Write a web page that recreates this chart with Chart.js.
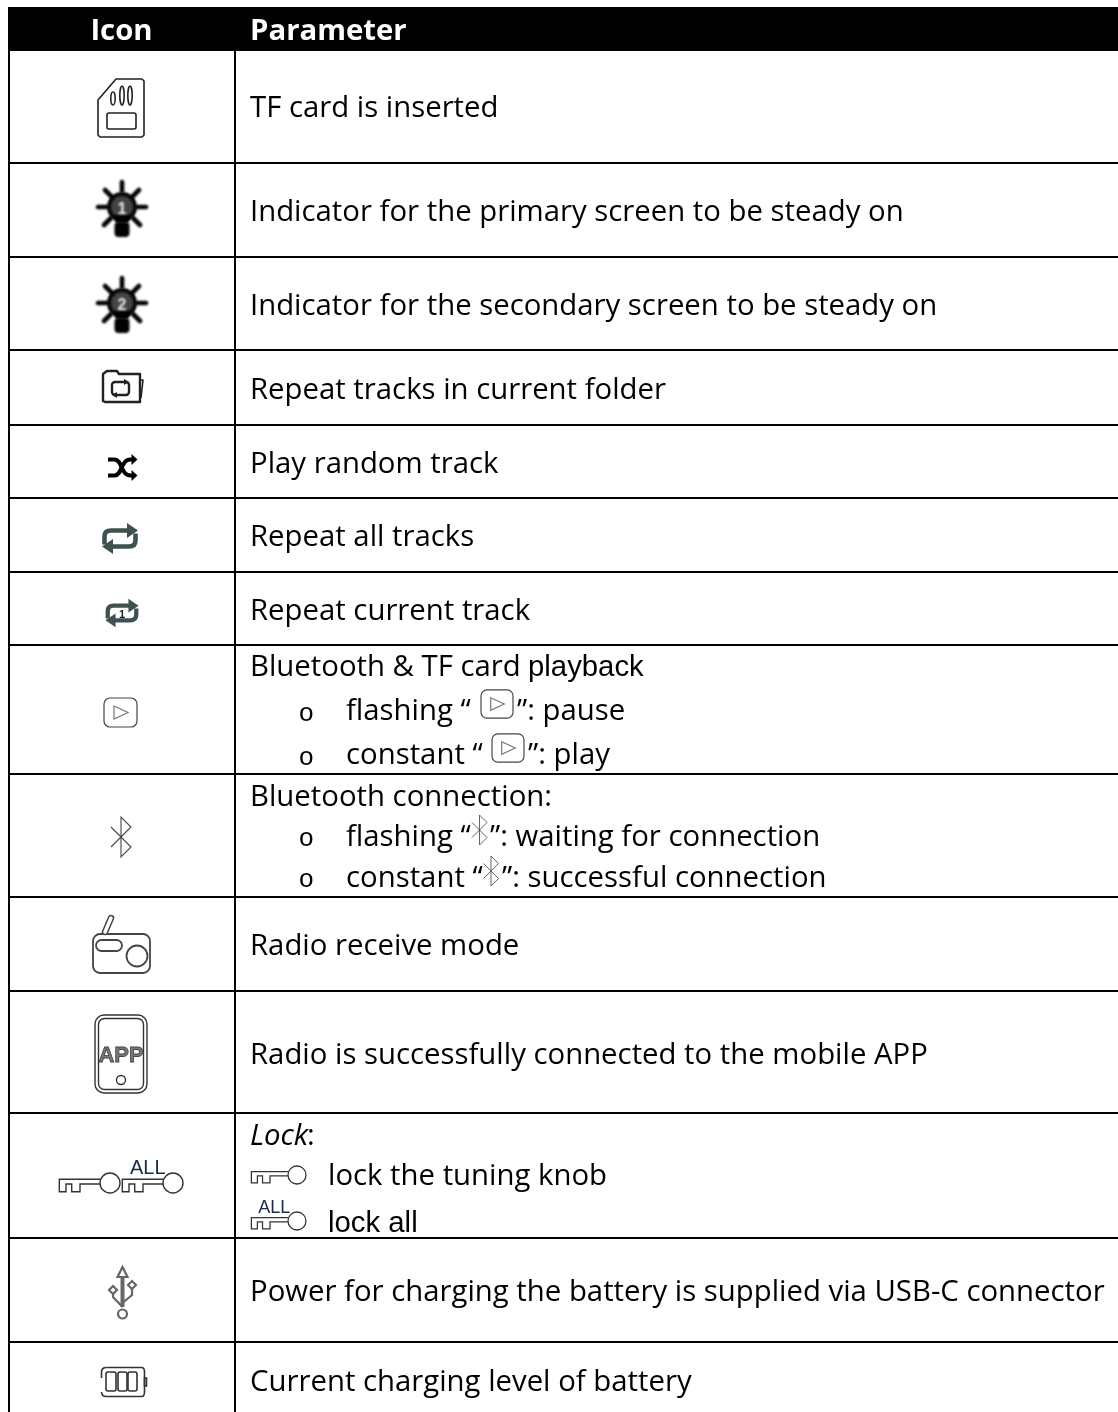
<!DOCTYPE html>
<html>
<head>
<meta charset="utf-8">
<title>Icon table</title>
<script src="https://cdn.jsdelivr.net/npm/chart.js@4"></script>
<style>
  html, body { margin: 0; padding: 0; background: #fff; }
  #wrap { width: 1118px; height: 1412px; }
</style>
</head>
<body>
<div id="wrap"><canvas id="myChart"></canvas></div>
<script>
/* table skeleton */
var columnEdges = [9, 235];
var rowEdges = [50, 163, 257, 350, 425, 498, 572, 645, 774, 897, 991, 1113, 1238, 1342];
var headerBand = [{x: 8, y: 28.5}, {x: 1118, y: 28.5}];

var headerLabels = ["Icon", "Parameter"];
var headerX = [121.5, 250];

var textLines = ["TF card is inserted", "Indicator for the primary screen to be steady on",
  "Indicator for the secondary screen to be steady on", "Repeat tracks in current folder",
  "Play random track", "Repeat all tracks", "Repeat current track", "Bluetooth & TF card ",
  "flashing “", "”: pause", "constant “", "”: play", "Bluetooth connection:",
  "flashing “", "”: waiting for connection", "constant “", "”: successful connection",
  "Radio receive mode", "Radio is successfully connected to the mobile APP",
  ":", "lock the tuning knob", "Power for charging the battery is supplied via USB-C connector",
  "Current charging level of battery"];
var textX = [250, 250, 250, 250, 250, 250, 250, 250, 346, 517, 346, 528, 250, 346, 490, 346, 502,
  250, 250, 307, 328, 250, 250];
var textY = [117, 221, 315, 399, 473, 546, 620, 676, 720, 720, 764, 764, 806, 846, 846, 887, 887,
  955, 1064, 1145, 1185, 1301, 1391];

var bulletY = [721, 765, 846, 887];
var iconSpots = [
  ["sd", 121, 108, 1], ["bulb1", 122, 207, 1], ["bulb2", 122, 303, 1], ["folder", 122, 386, 1],
  ["shuffle", 122.5, 467.5, 1], ["repeat", 120, 538.5, 1], ["repeat1", 122, 613, 0.92],
  ["play", 120.5, 712.5, 1], ["play", 497, 704, 0.97], ["play", 508, 748, 0.97],
  ["bt", 121, 837, 1], ["bt", 479.5, 830, 0.75], ["bt", 491, 871, 0.75],
  ["radio", 121, 945, 1], ["app", 121, 1054, 1],
  ["key", 110, 1183, 1], ["keyAll", 173, 1183, 1], ["key", 297, 1175, 0.9], ["keyAll", 297, 1221, 0.9],
  ["usb", 122.5, 1293, 1], ["battery", 123.5, 1382, 1]
];

const bodyFont = '29.33px "Open Sans"';

function rr(c, x, y, w, h, r) { c.beginPath(); c.roundRect(x, y, w, h, r); c.stroke(); }
function poly(c, pts, close) {
  c.beginPath();
  pts.forEach((p, i) => i ? c.lineTo(p[0], p[1]) : c.moveTo(p[0], p[1]));
  if (close) c.closePath();
}
function arrow(c, x, y, dir, len, half) {
  poly(c, [[x, y - half], [x + dir * len, y], [x, y + half]], true);
  c.fill();
}

function drawBulb(c, label) {
  c.filter = 'blur(0.9px)';
  c.strokeStyle = '#000'; c.fillStyle = '#000'; c.lineCap = 'round'; c.lineWidth = 4.6;
  [[-24, 0, -15, 0], [24, 0, 15, 0], [0, -25, 0, -16], [-17, -17, -10, -10], [17, -17, 10, -10],
   [-18, 18, -11, 11], [18, 18, 11, 11]].forEach(r => {
    poly(c, [[r[0], r[1]], [r[2], r[3]]]); c.stroke();
  });
  c.lineWidth = 4; c.fillStyle = '#444';
  c.beginPath(); c.arc(0, 0, 13, 0, Math.PI * 2); c.fill(); c.stroke();
  c.fillStyle = '#000';
  poly(c, [[-9, 8], [9, 8], [6, 16], [-6, 16]], true); c.fill();
  c.beginPath(); c.roundRect(-7.5, 15, 15, 15, 4); c.fill();
  c.font = 'bold 16px "Liberation Sans"'; c.textAlign = 'center';
  c.fillStyle = '#eee';
  c.fillText(label, 0, 7);
  c.filter = 'none';
}

function drawKey(c) {
  c.strokeStyle = '#333'; c.lineWidth = 1.4;
  c.beginPath(); c.arc(0, 0, 10, 0, Math.PI * 2); c.stroke();
  poly(c, [[-9.5, -3.7], [-50.7, -3.7], [-50.7, 8.7], [-44, 8.7], [-44, 1], [-38.3, 1], [-38.3, 8.7],
    [-30, 8.7], [-30, 1], [-10, 1]]);
  c.stroke();
}

function drawRepeat(c) {
  c.strokeStyle = '#3f5050'; c.fillStyle = '#3f5050'; c.lineWidth = 4.6; c.lineJoin = 'round';
  c.beginPath(); c.moveTo(-15.5, 6); c.lineTo(-15.5, -2); c.quadraticCurveTo(-15.5, -8, -9, -8); c.lineTo(8, -8); c.stroke();
  arrow(c, 7, -8, 1, 11, 7.5);
  c.beginPath(); c.moveTo(15.5, -5); c.lineTo(15.5, 2); c.quadraticCurveTo(15.5, 8, 9, 8); c.lineTo(-8, 8); c.stroke();
  arrow(c, -7, 8, -1, 11, 7.5);
}

var iconDraw = {
  sd(c) {
    c.strokeStyle = '#222'; c.lineWidth = 1.6; c.lineJoin = 'round';
    poly(c, [[-5, -29], [21, -29], [23, -27], [23, 27], [21, 29], [-21, 29], [-23, 27], [-23, -8]], true);
    c.stroke();
    rr(c, -14, 5, 29, 16, 2);
    [[-8, -16, -3], [1, -22, -3], [9, -22, -3]].forEach(p => {
      c.beginPath(); c.ellipse(p[0], (p[1] + p[2]) / 2, 2.2, (p[2] - p[1]) / 2, 0, 0, Math.PI * 2); c.stroke();
    });
  },
  bulb1(c) { drawBulb(c, "1"); },
  bulb2(c) { drawBulb(c, "2"); },
  folder(c) {
    c.strokeStyle = '#222'; c.lineWidth = 2.4; c.lineJoin = 'round';
    poly(c, [[-19, 15], [-19, -12], [-15, -15], [-5, -15], [-3, -12], [18, -12], [18, 16], [-17, 16]], true);
    c.stroke();
    c.lineWidth = 1.6;
    poly(c, [[18, -6], [21, -6], [19, 12]]); c.stroke();
    c.lineWidth = 2.4;
    rr(c, -10, -4, 17, 13, 3);
    c.fillStyle = '#222';
    arrow(c, 2, -4, 1, 5, 3); arrow(c, -5, 9, -1, 5, 3);
  },
  shuffle(c) {
    c.strokeStyle = '#000'; c.fillStyle = '#000'; c.lineWidth = 4;
    c.beginPath(); c.moveTo(-14.5, -8); c.lineTo(-8, -8); c.bezierCurveTo(0, -8, -2, 8, 8, 8); c.lineTo(10, 8); c.stroke();
    c.beginPath(); c.moveTo(-14.5, 8); c.lineTo(-8, 8); c.bezierCurveTo(0, 8, -2, -8, 8, -8); c.lineTo(10, -8); c.stroke();
    arrow(c, 9, -8, 1, 6, 5.5); arrow(c, 9, 8, 1, 6, 5.5);
  },
  repeat(c) { drawRepeat(c); },
  repeat1(c) {
    drawRepeat(c);
    c.fillStyle = '#222'; c.font = 'bold 12px "Liberation Sans"'; c.textAlign = 'center';
    c.fillText("1", 0, 5);
  },
  play(c) {
    c.strokeStyle = '#444'; c.lineWidth = 1.2;
    rr(c, -16.5, -14.5, 33, 29, 6);
    c.strokeStyle = '#777';
    poly(c, [[-6.5, -6.5], [7.5, 0], [-6.5, 6.5]], true); c.stroke();
  },
  bt(c) {
    c.strokeStyle = '#444'; c.lineWidth = 1.1; c.lineJoin = 'miter';
    poly(c, [[-10, -10], [10, 10], [0, 20], [0, -20], [10, -10], [-10, 10]]); c.stroke();
  },
  radio(c) {
    c.strokeStyle = '#444'; c.lineWidth = 1.8;
    rr(c, -28, -11, 57, 39, 7);
    rr(c, -25, -5, 26, 11, 5.5);
    c.beginPath(); c.arc(16, 11, 10.5, 0, Math.PI * 2); c.stroke();
    c.lineCap = 'round';
    c.lineWidth = 6.5; poly(c, [[-16, -13], [-10, -27]]); c.stroke();
    c.strokeStyle = '#fff'; c.lineWidth = 3.5; poly(c, [[-16, -13], [-10, -27]]); c.stroke();
  },
  app(c) {
    c.strokeStyle = '#333'; c.lineWidth = 1.4;
    rr(c, -26, -39, 52, 78, 9);
    rr(c, -22.5, -35.5, 45, 71, 6);
    c.beginPath(); c.arc(0, 26, 4.5, 0, Math.PI * 2); c.stroke();
    c.fillStyle = '#777'; c.font = 'bold 22px "Liberation Sans"'; c.textAlign = 'center';
    c.lineWidth = 0.8; c.strokeStyle = '#444'; c.fillText("APP", 0, 8); c.strokeText("APP", 0, 8);
  },
  key(c) { drawKey(c); },
  keyAll(c) {
    drawKey(c);
    c.fillStyle = '#1a2a4a'; c.font = '20px "Liberation Sans"'; c.textAlign = 'left';
    c.fillText("ALL", -43, -9);
  },
  usb(c) {
    c.filter = 'blur(0.5px)';
    c.strokeStyle = '#666'; c.lineWidth = 2.2;
    c.lineWidth = 4; poly(c, [[0, 14], [0, -16]]); c.stroke();
    c.lineWidth = 2.2;
    poly(c, [[-5, -16], [0, -26], [5, -16]], true); c.stroke();
    poly(c, [[0, 14], [-9.5, 4], [-9.5, 1]]); c.stroke();
    poly(c, [[0, 10], [9.5, 2], [9.5, -4]]); c.stroke();
    poly(c, [[-9.5, -7], [-5.5, -3], [-9.5, 1], [-13.5, -3]], true); c.stroke();
    poly(c, [[9.5, -12], [13.5, -8], [9.5, -4], [5.5, -8]], true); c.stroke();
    c.fillStyle = '#fff';
    c.beginPath(); c.arc(0, 21, 4.5, 0, Math.PI * 2); c.fill(); c.stroke();
    c.filter = 'none';
  },
  battery(c) {
    c.strokeStyle = '#333'; c.lineWidth = 1.6;
    c.beginPath(); c.moveTo(-17, -14.5); c.lineTo(18, -14.5); c.quadraticCurveTo(21, -14.5, 21, -10); c.lineTo(21, 10);
    c.quadraticCurveTo(21, 14.5, 18, 14.5); c.lineTo(-17, 14.5); c.quadraticCurveTo(-22, 14.5, -22, 10); c.stroke();
    c.beginPath(); c.moveTo(-22, -4); c.lineTo(-22, -10); c.quadraticCurveTo(-22, -14.5, -17, -14.5); c.stroke();
    rr(c, -17.5, -10, 10, 19, 2); rr(c, -5.5, -10, 9, 19, 2); rr(c, 4.5, -10, 9, 19, 2);
    c.strokeRect(21, -4, 2, 8);
  }
};

/* text and icons sit in the cells, placed through the scales */
const tablePlugin = {
  id: 'tableCells',
  afterDraw(chart) {
    const c = chart.ctx, sx = chart.scales.x, sy = chart.scales.y;
    c.save();
    c.textBaseline = 'alphabetic';
    c.fillStyle = '#fff';
    c.font = 'bold 29.33px "Open Sans"';
    c.textAlign = 'center';
    c.fillText(headerLabels[0], sx.getPixelForValue(headerX[0]), sy.getPixelForValue(40));
    c.textAlign = 'left';
    c.fillText(headerLabels[1], sx.getPixelForValue(headerX[1]), sy.getPixelForValue(40));

    c.fillStyle = '#000';
    c.font = bodyFont;
    textLines.forEach((t, i) => {
      c.fillText(t, sx.getPixelForValue(textX[i]), sy.getPixelForValue(textY[i]));
    });
    c.font = 'italic 29.33px "Open Sans"';
    c.fillText("Lock", sx.getPixelForValue(250), sy.getPixelForValue(1145));
    c.font = '29.33px "Liberation Sans"';
    c.fillText("playback", sx.getPixelForValue(528), sy.getPixelForValue(676));
    c.fillText("lock all", sx.getPixelForValue(328), sy.getPixelForValue(1232));
    c.font = '26px "Liberation Mono"';
    bulletY.forEach(y => c.fillText("o", sx.getPixelForValue(298.5), sy.getPixelForValue(y)));

    iconSpots.forEach(s => {
      c.save();
      c.translate(sx.getPixelForValue(s[1]), sy.getPixelForValue(s[2]));
      c.scale(s[3], s[3]);
      iconDraw[s[0]](c);
      c.restore();
    });
    c.restore();
  }
};

var ctx1 = document.getElementById("myChart").getContext("2d");
new Chart(ctx1, {
  type: 'scatter',
  data: {
    datasets: [{
      data: headerBand,
      showLine: true,
      pointRadius: 0,
      borderColor: '#000',
      borderWidth: 43,
      borderCapStyle: 'butt'
    }]
  },
  plugins: [tablePlugin],
  options: {
    animation: false,
    responsive: true,
    maintainAspectRatio: false,
    layout: { padding: { left: 8, top: 7, right: 0, bottom: 0 } },
    plugins: { legend: { display: false }, tooltip: { enabled: false } },
    scales: {
      x: {
        type: 'linear', min: 8, max: 1118,
        afterBuildTicks: a => { a.ticks = columnEdges.map(v => ({value: v})); },
        border: { display: false },
        grid: { color: '#000', lineWidth: 2, drawTicks: false },
        ticks: { display: false }
      },
      y: {
        type: 'linear', reverse: true, min: 7, max: 1412,
        afterBuildTicks: a => { a.ticks = rowEdges.map(v => ({value: v})); },
        border: { display: false },
        grid: { color: '#000', lineWidth: 2, drawTicks: false },
        ticks: { display: false }
      }
    }
  }
});
</script>
</body>
</html>
